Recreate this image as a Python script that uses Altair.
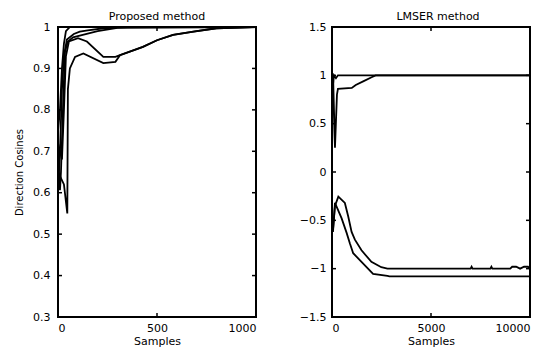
import altair as alt
import pandas as pd

# ---------------- Left panel: Proposed method ----------------
left_x_ticks = [0, 500, 1000]
left_y_ticks = [0.3, 0.4, 0.5, 0.6, 0.7, 0.8, 0.9, 1.0]

pa_x = [0, 10, 20, 30, 40, 60, 1000]
pa_y = [0.75, 0.80, 0.90, 0.96, 0.99, 1.0, 1.0]

pb_x = [0, 10, 20, 30, 45, 80, 110, 150, 230, 350, 1000]
pb_y = [0.60, 0.70, 0.85, 0.93, 0.97, 0.983, 0.989, 0.992, 0.997, 1.0, 1.0]

pe_x = [0, 10, 15, 25, 35, 50, 76, 100, 200, 300, 1000]
pe_y = [0.68, 0.606, 0.65, 0.80, 0.94, 0.965, 0.975, 0.978, 0.99, 0.998, 1.0]

pc_x = [0, 20, 30, 40, 55, 101, 146, 229, 290, 313, 429, 500, 581, 684, 800, 1000]
pc_y = [0.72, 0.68, 0.80, 0.93, 0.965, 0.973, 0.965, 0.928, 0.928, 0.932, 0.952, 0.968, 0.981, 0.989, 0.997, 1.0]

pd_x = [0, 30, 47, 50, 60, 86, 128, 229, 290, 313, 429, 500, 581, 684, 800, 1000]
pd_y = [0.65, 0.62, 0.55, 0.85, 0.90, 0.928, 0.936, 0.913, 0.916, 0.932, 0.952, 0.968, 0.981, 0.989, 0.997, 1.0]

# ---------------- Right panel: LMSER method ----------------
right_x_ticks = [0, 5000, 10000]
right_y_ticks = [-1.5, -1.0, -0.5, 0.0, 0.5, 1.0, 1.5]

r1_x = [0, 50, 100, 200, 300, 10000]
r1_y = [0.2, 0.9, 1.0, 0.97, 1.0, 1.0]

r2_x = [0, 60, 150, 250, 300, 1000, 1200, 1600, 2000, 2200, 10000]
r2_y = [0.5, 0.95, 0.25, 0.80, 0.86, 0.87, 0.90, 0.94, 0.98, 1.0, 1.0]

r3_x = [0, 50, 150, 320, 650, 820, 990, 1156, 1490, 1990, 2490, 2800, 7000, 7050, 7100,
        8000, 8050, 8100, 9000, 9100, 9300, 9500, 9700, 9900, 10000]
r3_y = [-0.5, -0.6, -0.35, -0.255, -0.32, -0.46, -0.62, -0.70, -0.81, -0.93, -0.985, -1.0, -1.0, -0.98, -1.0,
        -1.0, -0.98, -1.0, -1.0, -0.98, -0.98, -1.0, -0.98, -0.98, -1.0]

r4_x = [0, 50, 150, 487, 739, 905, 1070, 1490, 2075, 2800, 2900, 10000]
r4_y = [-0.55, -0.62, -0.32, -0.48, -0.63, -0.74, -0.84, -0.93, -1.055, -1.075, -1.08, -1.08]


def frame(curves):
    rows = []
    for name, xs, ys in curves:
        for i, (a, b) in enumerate(zip(xs, ys)):
            rows.append({"s": a, "v": b, "curve": name, "o": i})
    return pd.DataFrame(rows)


left_df = frame([("A", pa_x, pa_y), ("B", pb_x, pb_y), ("E", pe_x, pe_y),
                 ("C", pc_x, pc_y), ("D", pd_x, pd_y)])
right_df = frame([("1", r1_x, r1_y), ("2", r2_x, r2_y), ("3", r3_x, r3_y), ("4", r4_x, r4_y)])

W, H = 198, 290
TICK = 4
FONT = "DejaVu Sans"


def panel(df, xdom, ydom, xt, yt, title, ytitle, label_pad, title_dx):
    xs = alt.Scale(domain=xdom, nice=False, zero=False)
    ys = alt.Scale(domain=ydom, nice=False, zero=False)
    yaxis_kwargs = dict(values=yt, ticks=False, domain=False, grid=False,
                        labelPadding=label_pad, labelFontSize=11, labelFont=FONT,
                        labelColor="black", format="~g")
    if ytitle:
        yaxis = alt.Axis(title=ytitle, titleFontSize=10, titleFont=FONT,
                         titleFontWeight="normal", titleColor="black",
                         titlePadding=8, **yaxis_kwargs)
    else:
        yaxis = alt.Axis(title=None, **yaxis_kwargs)
    xaxis = alt.Axis(values=xt, ticks=False, domain=False, grid=False,
                     labelPadding=5, labelFontSize=11, labelFont=FONT,
                     labelColor="black", format="d", title="Samples",
                     titleFontSize=11, titleFont=FONT, titleFontWeight="normal",
                     titleColor="black", titlePadding=2)
    lines = alt.Chart(df).mark_line(color="black", strokeWidth=1.8, clip=True).encode(
        x=alt.X("s:Q", scale=xs, axis=xaxis),
        y=alt.Y("v:Q", scale=ys, axis=yaxis),
        detail="curve:N",
        order="o:Q",
    )
    xtd = pd.DataFrame({"t": xt})
    ytd = pd.DataFrame({"t": yt})
    xb = alt.Chart(xtd).mark_rule(color="black", strokeWidth=1.5).encode(
        x=alt.X("t:Q", scale=xs, axis=xaxis), y=alt.value(H), y2=alt.value(H - TICK))
    xtp = alt.Chart(xtd).mark_rule(color="black", strokeWidth=1.5).encode(
        x=alt.X("t:Q", scale=xs, axis=xaxis), y=alt.value(0), y2=alt.value(TICK))
    yl = alt.Chart(ytd).mark_rule(color="black", strokeWidth=1.5).encode(
        y=alt.Y("t:Q", scale=ys, axis=yaxis), x=alt.value(0), x2=alt.value(TICK))
    yr = alt.Chart(ytd).mark_rule(color="black", strokeWidth=1.5).encode(
        y=alt.Y("t:Q", scale=ys, axis=yaxis), x=alt.value(W), x2=alt.value(W - TICK))
    return alt.layer(lines, xb, xtp, yl, yr).properties(
        width=W, height=H,
        title=alt.TitleParams(title, fontSize=11, font=FONT, fontWeight="normal",
                              color="black", offset=-1, dx=title_dx),
    )


left = panel(left_df, [0, 1000], [0.3, 1.0], left_x_ticks, left_y_ticks,
             "Proposed method", "Direction Cosines", 8, 0)
right = panel(right_df, [0, 10000], [-1.5, 1.5], right_x_ticks, right_y_ticks,
              "LMSER method", None, 6, 7)

chart = alt.hconcat(left, right, spacing=76, bounds="flush").properties(
    padding={"left": 5, "top": 2, "right": 5, "bottom": 5},
    background="white",
).configure_view(stroke="black", strokeWidth=2)

chart.save("out.html", embed_options={"renderer": "svg", "actions": False})
